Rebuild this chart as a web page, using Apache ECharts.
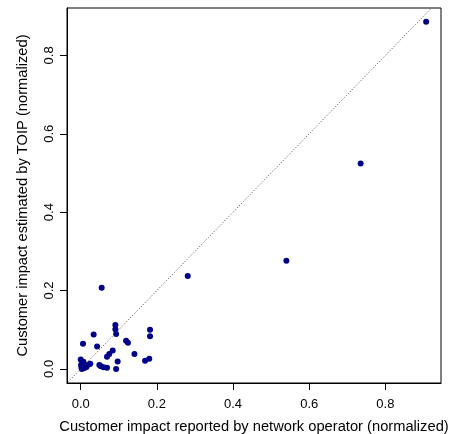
<!DOCTYPE html>
<html><head><meta charset="utf-8">
<script src="https://cdn.jsdelivr.net/npm/echarts@6/dist/echarts.min.js"></script>
<style>html,body{margin:0;padding:0;background:#fff}#c{width:450px;height:434px}</style>
</head><body><div id="c"></div>
<script>
var xs = [0.907,0.735,0.540,0.281,0.055,0.091,0.091,0.093,0.182,0.182,0.034,0.006,0.043,0.119,0.124,0.084,0.075,0.069,0.141,0.097,0.169,0.180,0.049,0.053,0.060,0.069,0.093,
  0.000,0.001,0.002,0.003,0.005,0.008,0.010,0.012,0.015,0.018,0.022,0.025,0.007,0.004];
var ys = [0.886,0.524,0.276,0.237,0.207,0.112,0.101,0.089,0.100,0.083,0.088,0.064,0.057,0.072,0.067,0.047,0.038,0.031,0.038,0.019,0.021,0.026,0.010,0.007,0.004,0.003,0.000,
  0.024,0.010,0.003,0.000,0.006,0.013,0.002,0.008,0.005,0.010,0.012,0.013,0.018,0.015];
var tickVals = [0,0.2,0.4,0.6,0.8];
var refLine = [-0.1,1.1];
var xTitle = 'Customer impact reported by network operator (normalized)';
var yTitle = 'Customer impact estimated by TOIP (normalized)';

var pts = xs.map(function(x,i){return [x, ys[i]];});
var diag = refLine.map(function(v){return [v,v];});
var font = 'Liberation Sans, Arial, sans-serif';
function axisCommon(name, gap, isY){
  return {
    type:'value', min:-0.036, max:isY?0.921:0.946,
    name:name, nameLocation:'middle', nameGap:gap,
    nameTextStyle:{fontFamily:font, fontSize:14.7, color:'#000'},
    axisLine:{show:true, onZero:false, lineStyle:{color:'#000', width:1}},
    splitLine:{show:false},
    axisTick:{show:true, inside:false, length:7, customValues:tickVals, lineStyle:{color:'#000', width:1}},
    axisLabel:{show:true, customValues:tickVals, margin:isY?11:15, rotate:isY?90:0,
      fontFamily:font, fontSize:13, color:'#000',
      formatter:function(v){return v.toFixed(1);}}
  };
}
var chart = echarts.init(document.getElementById('c'));
chart.setOption({
  animation:false,
  grid:{left:67, top:8, width:374, height:375, show:true, borderColor:'#000', borderWidth:1,
        backgroundColor:'transparent', outerBoundsMode:'none', containLabel:false},
  xAxis: axisCommon(xTitle, 36, false),
  yAxis: axisCommon(yTitle, 37, true),
  series:[
    {type:'line', data:diag, clip:true, symbol:'none', silent:true,
     lineStyle:{color:'#444', width:1, type:[1,2]}},
    {type:'scatter', data:pts, symbol:'circle', symbolSize:6,
     itemStyle:{color:'#00008B', opacity:1}}
  ]
});
</script></body></html>
